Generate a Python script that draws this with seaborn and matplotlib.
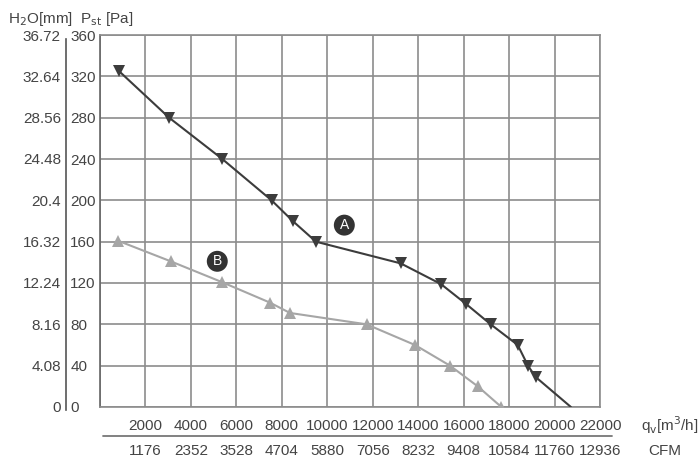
import numpy as np
import pandas as pd
import matplotlib
matplotlib.use("Agg")
import matplotlib.pyplot as plt
import matplotlib.transforms as mtransforms
import seaborn as sns

# curve A (dark, down triangles) - last point has no marker
a_flow = [840, 3040, 5380, 7550, 8480, 9500, 13230, 15000, 16090, 17190, 18380, 18830, 19170, 20720]
a_pa = [325, 280, 240, 200, 180, 160, 139, 119, 100, 80, 60, 40, 29, 0]

# curve B (light, up triangles)
b_flow = [780, 3110, 5350, 7480, 8360, 11730, 13860, 15400, 16620, 17660]
b_pa = [161, 141, 121, 101, 91, 80, 60, 40, 20, 0]

qv_ticks = list(range(0, 22001, 2000))
qv_labels = [""] + [str(v) for v in qv_ticks[1:]]
cfm_labels = ["1176", "2352", "3528", "4704", "5880", "7056", "8232", "9408", "10584", "11760", "12936"]
pa_ticks = list(range(0, 361, 40))
h2o_labels = ["0", "4.08", "8.16", "12.24", "16.32", "20.4", "24.48", "28.56", "32.64", "36.72"]

sns.set_style("white")
plt.rcParams['font.family'] = ['Liberation Sans', 'DejaVu Sans']
txt = "#444444"
gridc = "#8c8c8c"

fig = plt.figure(figsize=(7, 4.68), dpi=100)
ax = fig.add_axes([100 / 700, 1 - 407 / 468, 500 / 700, 372 / 468])

df_a = pd.DataFrame({"flow": a_flow, "pa": a_pa})
df_b = pd.DataFrame({"flow": b_flow, "pa": b_pa})

sns.lineplot(data=df_b, x="flow", y="pa", ax=ax, sort=False, color="#a6a6a6",
             lw=1.5, marker="^", markersize=8, markeredgewidth=0, zorder=3)
sns.lineplot(data=df_a, x="flow", y="pa", ax=ax, sort=False, color="#3c3c3c",
             lw=1.5, marker="v", markersize=8, markeredgewidth=0,
             markevery=list(range(len(a_flow) - 1)), zorder=4)

ax.set_xlim(0, 22000)
ax.set_ylim(0, 360)
ax.set_xlabel("")
ax.set_ylabel("")

# grid
ax.set_xticks(qv_ticks)
ax.set_xticklabels(qv_labels, fontsize=11, color=txt)
ax.set_yticks(pa_ticks)
ax.set_yticklabels([str(v) for v in pa_ticks], fontsize=11, color=txt, ha="left")
ax.grid(True, color=gridc, lw=1.2)
ax.tick_params(axis="x", which="major", length=0, pad=9)
ax.tick_params(axis="y", which="major", length=0, pad=21.5)
ax.set_xticks(list(range(1000, 22000, 2000)), minor=True)
ax.set_yticks(list(range(20, 360, 40)), minor=True)
ax.tick_params(which="minor", direction="in", length=4, width=1.2, color="#555555")
for s in ax.spines.values():
    s.set_color(gridc)
    s.set_linewidth(1.2)
ax.spines["left"].set_color("#666666")

# H2O column on the left
sec = ax.secondary_yaxis(-0.067, functions=(lambda p: p * 0.102, lambda m: m / 0.102))
sec.set_yticks([float(v) for v in h2o_labels])
sec.set_yticklabels(h2o_labels, fontsize=11, color=txt)
sec.tick_params(length=0, pad=4)
sec.spines["left"].set_visible(True)
sec.spines["left"].set_color("#555555")
sec.spines["left"].set_linewidth(1.2)
sec.spines["left"].set_bounds(-3 * 0.102, 356 * 0.102)

fig.text(8 / 700, 1 - 19 / 468, r"H$_2$O[mm]  P$_{\mathrm{st}}$ [Pa]", fontsize=11,
         color=txt, va="center", ha="left")

# CFM row and separator
trans = mtransforms.blended_transform_factory(ax.transData, ax.transAxes)
for x, lab in zip(qv_ticks[1:], cfm_labels):
    ax.text(x, -0.118, lab, transform=trans, ha="center", va="center",
            fontsize=11, color=txt)
ax.plot([150, 22550], [-0.078, -0.078], transform=trans, color="#777777",
        lw=1.3, clip_on=False)
ax.text(1.082, -0.05, r"q$_\mathrm{v}$[m$^3$/h]", transform=ax.transAxes,
        ha="left", va="center", fontsize=11, color=txt)
ax.text(1.096, -0.118, "CFM", transform=ax.transAxes,
        ha="left", va="center", fontsize=11, color=txt)

# curve labels
for lab, x, y in [("A", 10750, 176), ("B", 5160, 141)]:
    ax.text(x, y, lab, ha="center", va="center", fontsize=10, color="white",
            zorder=6, bbox=dict(boxstyle="circle,pad=0.25", fc="#333333", ec="none"))

fig.savefig("out.png", dpi=100)
